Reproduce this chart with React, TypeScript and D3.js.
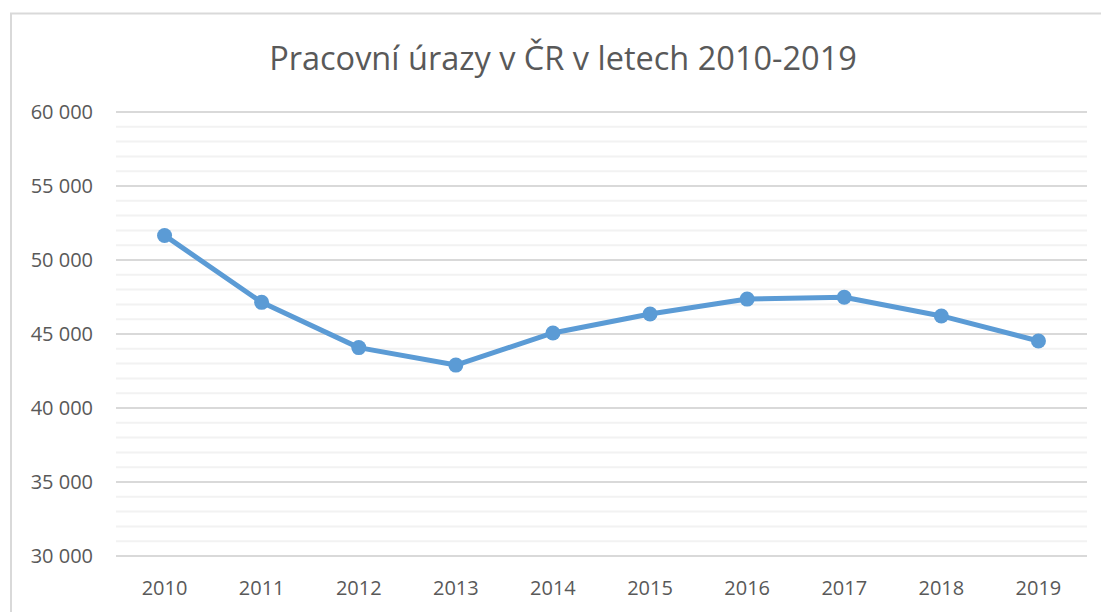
import React, { useEffect, useRef } from 'react';
import * as d3 from 'd3';

const years = ['2010', '2011', '2012', '2013', '2014', '2015', '2016', '2017', '2018', '2019'];
const injuries = [51660, 47140, 44080, 42900, 45070, 46350, 47360, 47480, 46220, 44530];
const yTicks = [30000, 35000, 40000, 45000, 50000, 55000, 60000];
const title = 'Pracovní úrazy v ČR v letech 2010-2019';

const W = 1101;
const H = 612;
const FONT = "'Open Sans', 'Liberation Sans', sans-serif";

const fmt = (v: number) => d3.format(',')(v).replace(/,/g, ' ');

const App: React.FC = () => {
  const svgRef = useRef<SVGSVGElement>(null);

  useEffect(() => {
    if (!svgRef.current) return;
    const svg = d3.select(svgRef.current);
    svg.selectAll('*').remove();

    const left = 116, right = 1087, top = 112, bottom = 556;

    const x = d3.scaleBand<string>().domain(years).range([left, right]);
    const y = d3.scaleLinear().domain([30000, 60000]).range([bottom, top]);

    svg.append('rect')
      .attr('width', W).attr('height', H).attr('fill', '#fff');

    // chart frame (runs off the right/bottom edge)
    svg.append('rect')
      .attr('x', 11).attr('y', 13.5)
      .attr('width', W + 20).attr('height', H + 20)
      .attr('fill', 'none')
      .attr('stroke', '#d9d9d9')
      .attr('stroke-width', 2);

    svg.append('text')
      .attr('x', 563).attr('y', 70)
      .attr('text-anchor', 'middle')
      .attr('font-family', FONT)
      .attr('font-size', 32.5)
      .attr('fill', '#595959')
      .text(title);

    // minor gridlines
    const minor = d3.range(30000, 60001, 1000).filter(v => v % 5000 !== 0);
    svg.append('g').selectAll('line').data(minor).enter().append('line')
      .attr('x1', left).attr('x2', right)
      .attr('y1', d => y(d)).attr('y2', d => y(d))
      .attr('stroke', '#f2f2f2').attr('stroke-width', 2);

    // major gridlines
    svg.append('g').selectAll('line').data(yTicks).enter().append('line')
      .attr('x1', left).attr('x2', right)
      .attr('y1', d => y(d)).attr('y2', d => y(d))
      .attr('stroke', '#d9d9d9').attr('stroke-width', 2);

    svg.append('g').selectAll('text').data(yTicks).enter().append('text')
      .attr('x', 93).attr('y', d => y(d))
      .attr('dy', '0.36em')
      .attr('text-anchor', 'end')
      .attr('font-family', FONT)
      .attr('font-size', 20)
      .attr('fill', '#595959')
      .text(d => fmt(d));

    svg.append('g').selectAll('text').data(years).enter().append('text')
      .attr('x', d => (x(d) as number) + x.bandwidth() / 2)
      .attr('y', 595)
      .attr('text-anchor', 'middle')
      .attr('font-family', FONT)
      .attr('font-size', 20)
      .attr('fill', '#595959')
      .text(d => d);

    const line = d3.line<number>()
      .x((_, i) => (x(years[i]) as number) + x.bandwidth() / 2)
      .y(d => y(d));

    svg.append('path')
      .datum(injuries)
      .attr('d', line)
      .attr('fill', 'none')
      .attr('stroke', '#5b9bd5')
      .attr('stroke-width', 5)
      .attr('stroke-linejoin', 'round');

    svg.append('g').selectAll('circle').data(injuries).enter().append('circle')
      .attr('cx', (_, i) => (x(years[i]) as number) + x.bandwidth() / 2)
      .attr('cy', d => y(d))
      .attr('r', 7.5)
      .attr('fill', '#5b9bd5');
  }, []);

  return (
    <svg
      ref={svgRef}
      width={W}
      height={H}
      style={{ position: 'absolute', left: 0, top: 0, display: 'block' }}
    />
  );
};

export default App;
